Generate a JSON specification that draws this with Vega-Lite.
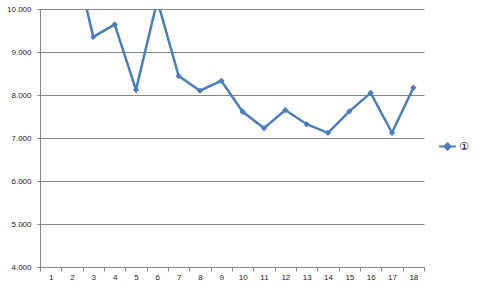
{
  "$schema": "https://vega.github.io/schema/vega-lite/v6.json",
  "autosize": {"type": "none"},
  "width": 384,
  "height": 258,
  "padding": {"left": 40, "top": 9, "right": 56, "bottom": 25},
  "background": "white",
  "config": {
    "view": {"stroke": null},
    "font": "Liberation Sans",
    "axis": {"labelFont": "Liberation Sans", "labelFontSize": 8, "labelColor": "#222", "domainColor": "#868686", "tickColor": "#868686", "gridColor": "#868686", "gridOpacity": 1}
  },
  "data": {
    "values": [
      {"x": 1, "v": 12.6, "s": "①"},
      {"x": 2, "v": 11.45, "s": "①"},
      {"x": 3, "v": 9.35, "s": "①"},
      {"x": 4, "v": 9.64, "s": "①"},
      {"x": 5, "v": 8.12, "s": "①"},
      {"x": 6, "v": 10.2, "s": "①"},
      {"x": 7, "v": 8.44, "s": "①"},
      {"x": 8, "v": 8.1, "s": "①"},
      {"x": 9, "v": 8.33, "s": "①"},
      {"x": 10, "v": 7.61, "s": "①"},
      {"x": 11, "v": 7.23, "s": "①"},
      {"x": 12, "v": 7.65, "s": "①"},
      {"x": 13, "v": 7.32, "s": "①"},
      {"x": 14, "v": 7.12, "s": "①"},
      {"x": 15, "v": 7.62, "s": "①"},
      {"x": 16, "v": 8.05, "s": "①"},
      {"x": 17, "v": 7.12, "s": "①"},
      {"x": 18, "v": 8.17, "s": "①"}
    ]
  },
  "encoding": {
    "x": {
      "field": "x", "type": "ordinal",
      "scale": {"type": "band", "paddingInner": 0, "paddingOuter": 0},
      "axis": {"title": null, "labelAngle": 0, "tickBand": "extent", "tickSize": 4, "labelPadding": 2, "grid": false}
    },
    "y": {
      "field": "v", "type": "quantitative",
      "scale": {"domain": [4, 10], "nice": false, "zero": false},
      "axis": {"title": null, "values": [4, 5, 6, 7, 8, 9, 10], "format": ".3f", "tickSize": 3, "labelPadding": 6, "grid": true}
    },
    "color": {
      "field": "s", "type": "nominal",
      "scale": {"range": ["#4a7ebb"]},
      "legend": {
        "title": null, "orient": "none", "legendX": 398, "legendY": 128,
        "symbolType": "M-1,0H1M0,-0.38L0.38,0L0,0.38L-0.38,0Z",
        "symbolSize": 280, "symbolStrokeWidth": 2, "symbolFillColor": "#4a7ebb",
        "labelFontSize": 11, "labelOffset": 2, "labelFont": "DejaVu Sans"
      }
    }
  },
  "layer": [
    {"mark": {"type": "line", "strokeWidth": 2.5, "clip": true}},
    {"mark": {"type": "point", "shape": "diamond", "filled": true, "size": 40, "opacity": 1, "clip": true}}
  ]
}
